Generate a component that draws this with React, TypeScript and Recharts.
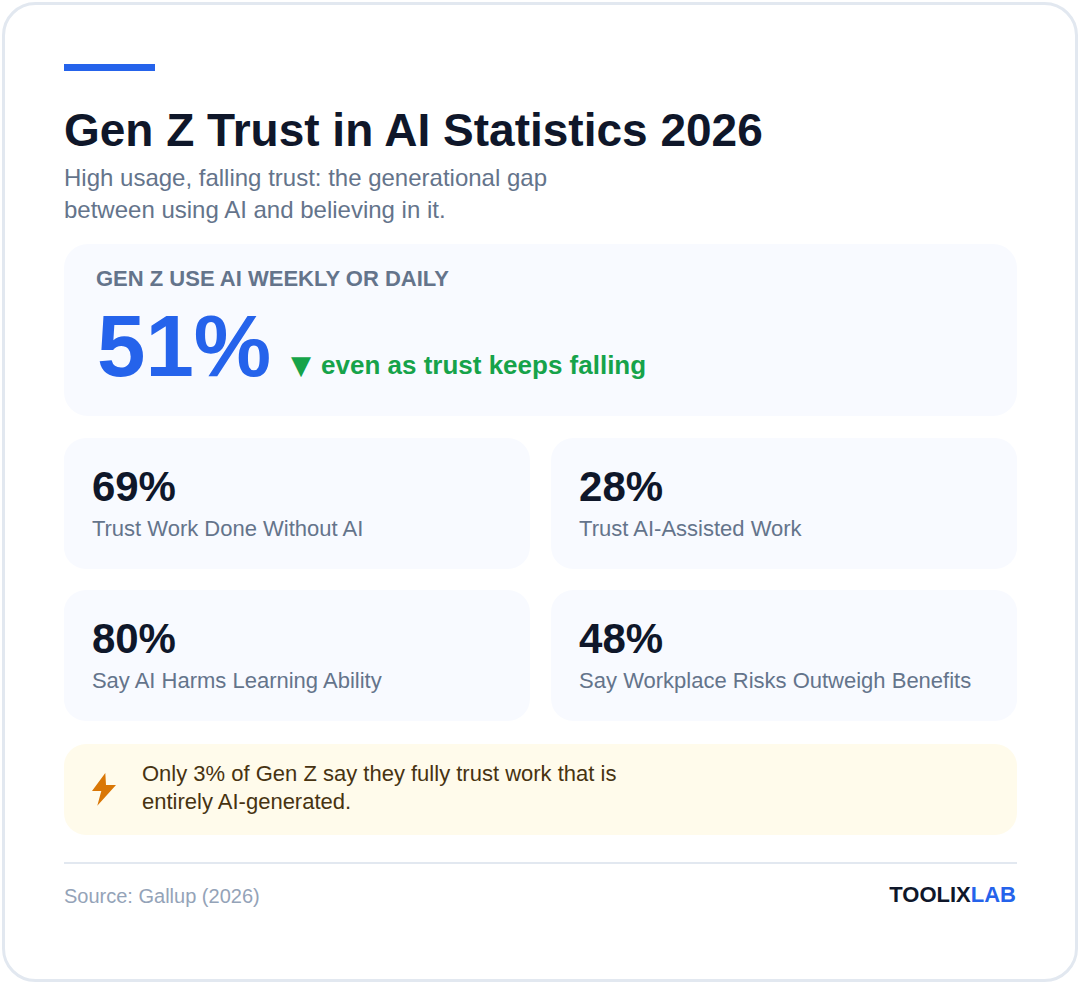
import { ScatterChart, Scatter, XAxis, YAxis, Customized } from "recharts";

const FONT = "'Liberation Sans', Arial, sans-serif";

const statValues = [69, 28, 80, 48];
const statLabels = [
  "Trust Work Done Without AI",
  "Trust AI-Assisted Work",
  "Say AI Harms Learning Ability",
  "Say Workplace Risks Outweigh Benefits"
];
const statColumns = [0, 1, 0, 1];
const statRows = [0, 0, 1, 1];
const headlineValue = 51;

const statData = statValues.map((value, i) => ({
  value,
  label: statLabels[i],
  column: statColumns[i],
  row: statRows[i]
}));

const CARD_W = 466;
const CARD_H = 131;

function StatCard(props: any) {
  const { cx, cy, payload } = props;
  const left = cx - CARD_W / 2;
  const top = cy - CARD_H / 2;
  return (
    <g>
      <rect x={left} y={top} width={CARD_W} height={CARD_H} rx={22} fill="#f8faff" />
      <text x={left + 28} y={top + 63} fontFamily={FONT} fontSize={42} fontWeight={700} fill="#0f172a">
        {payload.value}%
      </text>
      <text x={left + 28} y={top + 98} fontFamily={FONT} fontSize={22} fill="#64748b">
        {payload.label}
      </text>
    </g>
  );
}

function Page() {
  return (
    <g fontFamily={FONT}>
      <rect x={3.5} y={3.5} width={1073} height={977} rx={32} fill="#ffffff" stroke="#e2e8f0" strokeWidth={3} />
      <rect x={64} y={64} width={91} height={7} fill="#2563eb" />
      <text x={64} y={146} fontSize={46} fontWeight={700} fill="#0f172a">Gen Z Trust in AI Statistics 2026</text>
      <text x={64} y={186} fontSize={24} fill="#64748b">High usage, falling trust: the generational gap</text>
      <text x={64} y={218} fontSize={24} fill="#64748b">between using AI and believing in it.</text>
      <rect x={64} y={244} width={953} height={172} rx={24} fill="#f8faff" />
      <text x={96} y={286} fontSize={22} fontWeight={700} fill="#64748b">GEN Z USE AI WEEKLY OR DAILY</text>
      <text x={97} y={376} fontSize={87} fontWeight={700} fill="#2563eb">{headlineValue}%</text>
      <text x={291} y={374} fontSize={26} fontWeight={700} fill="#16a34a">
        <tspan fontFamily="'DejaVu Sans'">▼</tspan>
      </text>
      <text x={321} y={374} fontSize={26} fontWeight={700} fill="#16a34a">even as trust keeps falling</text>
      <rect x={64} y={744} width={953} height={91} rx={22} fill="#fffbeb" />
      <path d="M105.3 773 L92 791 L101.3 791 L97.3 805.7 L116 785 L106 785 Z" fill="#d97706" />
      <text x={142} y={781} fontSize={22} fill="#473311">Only 3% of Gen Z say they fully trust work that is</text>
      <text x={142} y={809} fontSize={22} fill="#473311">entirely AI-generated.</text>
      <rect x={64} y={862} width={953} height={2} fill="#e2e8f0" />
      <text x={64} y={903} fontSize={20} fill="#94a3b8">Source: Gallup (2026)</text>
      <text x={1016} y={902} fontSize={22} fontWeight={700} textAnchor="end" fill="#0f172a">
        TOOLIX<tspan fill="#2563eb">LAB</tspan>
      </text>
    </g>
  );
}

export default function App() {
  return (
    <div style={{ position: "absolute", left: 0, top: 0, width: 1080, height: 984, background: "#fff" }}>
      <ScatterChart
        width={1080}
        height={984}
        margin={{ left: 64, right: 63, top: 438, bottom: 263 }}
      >
        <XAxis type="number" dataKey="column" domain={[-0.478, 1.478]} hide />
        <YAxis type="number" dataKey="row" domain={[-0.431, 1.431]} reversed hide />
        <Customized component={Page} />
        <Scatter data={statData} isAnimationActive={false} shape={StatCard} />
      </ScatterChart>
    </div>
  );
}
